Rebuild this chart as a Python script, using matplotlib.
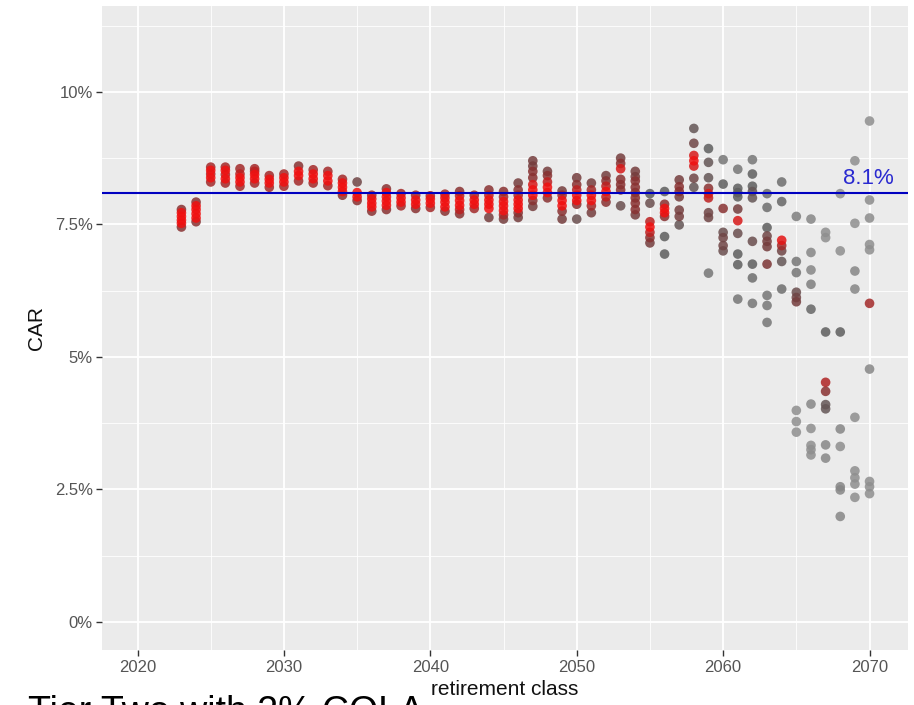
import numpy as np
import matplotlib
matplotlib.use("Agg")
import matplotlib.pyplot as plt
from matplotlib.colors import LinearSegmentedColormap
from matplotlib.ticker import FixedLocator, FuncFormatter

plt.rcParams["font.family"] = ["Liberation Sans", "DejaVu Sans"]

# ── data: one list per retirement class ───────────────────────────────────
classes = [2023, 2024, 2025, 2026, 2027, 2028, 2029, 2030, 2031, 2032,
           2033, 2034, 2035, 2036, 2037, 2038, 2039, 2040, 2041, 2042,
           2043, 2044, 2045, 2046, 2047, 2048, 2049, 2050, 2051, 2052,
           2053, 2054, 2055, 2056, 2057, 2058, 2059, 2060, 2061, 2062,
           2063, 2064, 2065, 2066, 2067, 2068, 2069, 2070]

# CAR in percent
car = [
    [7.45, 7.52, 7.58, 7.65, 7.72, 7.78],
    [7.55, 7.62, 7.70, 7.78, 7.85, 7.92],
    [8.30, 8.38, 8.45, 8.52, 8.58],
    [8.28, 8.36, 8.44, 8.52, 8.58],
    [8.22, 8.30, 8.38, 8.45, 8.55],
    [8.28, 8.36, 8.44, 8.50, 8.55],
    [8.20, 8.28, 8.35, 8.42],
    [8.22, 8.30, 8.38, 8.45],
    [8.32, 8.42, 8.50, 8.60],
    [8.28, 8.36, 8.45, 8.53],
    [8.23, 8.32, 8.42, 8.50],
    [8.05, 8.12, 8.20, 8.28, 8.35],
    [7.95, 8.02, 8.10, 8.30],
    [7.75, 7.83, 7.90, 7.98, 8.05],
    [7.78, 7.86, 7.94, 8.02, 8.10, 8.17],
    [7.85, 7.92, 8.00, 8.08],
    [7.80, 7.88, 7.96, 8.05],
    [7.82, 7.90, 7.98, 8.04],
    [7.75, 7.83, 7.92, 8.00, 8.07],
    [7.70, 7.78, 7.86, 7.95, 8.04, 8.12],
    [7.80, 7.88, 7.96, 8.05],
    [7.63, 7.80, 7.88, 7.96, 8.05, 8.15],
    [7.60, 7.68, 7.76, 7.85, 7.93, 8.02, 8.12],
    [7.63, 7.72, 7.80, 7.88, 7.96, 8.05, 8.15, 8.28],
    [7.84, 7.95, 8.05, 8.15, 8.25, 8.38, 8.50, 8.60, 8.70],
    [8.00, 8.10, 8.20, 8.30, 8.42, 8.50],
    [7.60, 7.75, 7.85, 7.95, 8.05, 8.13],
    [7.60, 7.88, 7.95, 8.05, 8.15, 8.25, 8.38],
    [7.72, 7.85, 7.95, 8.05, 8.15, 8.28],
    [7.92, 8.02, 8.12, 8.22, 8.32, 8.42],
    [7.85, 8.15, 8.25, 8.35, 8.55, 8.65, 8.75],
    [7.68, 7.78, 7.90, 8.00, 8.10, 8.20, 8.32, 8.40, 8.50],
    [7.15, 7.25, 7.35, 7.45, 7.55, 7.90, 8.08],
    [6.94, 7.27, 7.65, 7.72, 7.80, 7.88, 8.12],
    [7.49, 7.65, 7.77, 8.02, 8.12, 8.21, 8.34],
    [8.20, 8.37, 8.60, 8.70, 8.80, 9.03, 9.31],
    [6.58, 7.63, 7.72, 8.00, 8.08, 8.18, 8.38, 8.67, 8.93],
    [7.00, 7.10, 7.25, 7.35, 7.80, 8.26, 8.72],
    [6.09, 6.74, 6.94, 7.33, 7.57, 7.79, 8.02, 8.10, 8.18, 8.54],
    [6.01, 6.49, 6.75, 7.18, 8.00, 8.12, 8.22, 8.45, 8.72],
    [5.65, 5.97, 6.16, 6.75, 7.08, 7.18, 7.28, 7.44, 7.82, 8.08],
    [6.28, 6.80, 7.00, 7.10, 7.20, 7.93, 8.30],
    [3.58, 3.78, 3.99, 6.04, 6.12, 6.22, 6.59, 6.80, 7.65],
    [3.15, 3.25, 3.33, 3.65, 4.11, 5.90, 6.37, 6.64, 6.97, 7.60],
    [3.09, 3.34, 4.02, 4.10, 4.35, 4.52, 5.47, 7.25, 7.35],
    [1.99, 2.49, 2.55, 3.31, 3.64, 5.47, 7.00, 8.08],
    [2.35, 2.60, 2.72, 2.85, 3.86, 6.28, 6.62, 7.52, 8.70],
    [2.42, 2.55, 2.65, 4.77, 6.01, 7.02, 7.12, 7.62, 7.96, 9.45],
]

# colour variable (0 = grey ... 1 = red)
redness = [
    [0.6, 1, 1, 1, 1, 0.6],
    [0.6, 1, 1, 1, 1, 0.6],
    [0.7, 1, 0.8, 1, 0.7],
    [0.7, 1, 0.8, 1, 0.7],
    [0.7, 1, 1, 0.8, 0.7],
    [0.7, 1, 1, 0.8, 0.7],
    [0.7, 1, 1, 0.7],
    [0.7, 1, 1, 0.7],
    [0.7, 1, 1, 0.6],
    [0.7, 1, 1, 0.7],
    [0.7, 1, 1, 0.7],
    [0.6, 1, 1, 1, 0.7],
    [0.6, 1, 1, 0.45],
    [0.6, 1, 1, 1, 0.7],
    [0.6, 1, 1, 1, 1, 0.6],
    [0.7, 1, 1, 0.7],
    [0.6, 1, 1, 0.7],
    [0.7, 1, 1, 0.7],
    [0.6, 1, 1, 1, 0.7],
    [0.6, 0.8, 1, 1, 0.8, 0.6],
    [0.7, 1, 1, 0.7],
    [0.5, 1, 1, 1, 0.8, 0.6],
    [0.5, 0.7, 1, 1, 1, 0.7, 0.6],
    [0.5, 0.6, 1, 1, 1, 0.7, 0.6, 0.5],
    [0.5, 0.6, 1, 1, 0.9, 0.6, 0.6, 0.5, 0.5],
    [0.6, 1, 1, 0.8, 0.6, 0.5],
    [0.5, 0.6, 1, 1, 0.7, 0.5],
    [0.4, 0.6, 1, 1, 0.8, 0.6, 0.5],
    [0.5, 0.7, 1, 1, 0.7, 0.5],
    [0.6, 0.8, 1, 0.8, 0.6, 0.5],
    [0.4, 0.6, 0.6, 0.6, 0.9, 0.6, 0.5],
    [0.5, 0.6, 0.6, 0.6, 0.6, 0.6, 0.6, 0.5, 0.5],
    [0.5, 0.6, 0.8, 1, 0.8, 0.4, 0.3],
    [0.3, 0.3, 0.6, 1, 1, 0.6, 0.3],
    [0.35, 0.5, 0.5, 0.5, 0.6, 0.6, 0.5],
    [0.35, 0.45, 0.9, 1, 0.9, 0.45, 0.35],
    [0.15, 0.45, 0.45, 0.8, 0.9, 0.6, 0.35, 0.35, 0.3],
    [0.4, 0.45, 0.45, 0.4, 0.6, 0.3, 0.15],
    [0.15, 0.3, 0.3, 0.4, 0.9, 0.5, 0.3, 0.3, 0.3, 0.15],
    [0.15, 0.2, 0.3, 0.4, 0.35, 0.35, 0.3, 0.3, 0.15],
    [0.15, 0.15, 0.15, 0.55, 0.5, 0.5, 0.45, 0.3, 0.2, 0.2],
    [0.2, 0.35, 0.45, 0.7, 0.95, 0.25, 0.2],
    [0.0, 0.0, 0.0, 0.5, 0.45, 0.4, 0.15, 0.15, 0.1],
    [0.0, 0.0, 0.0, 0.0, 0.05, 0.25, 0.1, 0.05, 0.05, 0.05],
    [0.05, 0.05, 0.35, 0.35, 0.6, 0.75, 0.3, 0.0, 0.0],
    [0.05, 0.05, 0.05, 0.0, 0.05, 0.3, 0.0, 0.0],
    [0.0, 0.0, 0.0, 0.0, 0.0, 0.05, 0.05, 0.0, 0.0],
    [0.0, 0.0, 0.0, 0.05, 0.7, 0.0, 0.0, 0.02, 0.02, 0.0],
]

target_car = 8.1
x_ticks = [2020, 2030, 2040, 2050, 2060, 2070]
y_ticks = [0, 2.5, 5, 7.5, 10]
y_tick_labels = ["0%", "2.5%", "5%", "7.5%", "10%"]

# ── flatten ───────────────────────────────────────────────────────────────
xs, ys, cs = [], [], []
for yr, vals, reds in zip(classes, car, redness):
    xs += [yr] * len(vals)
    ys += vals
    cs += reds
xs, ys, cs = np.array(xs), np.array(ys), np.array(cs)
order = np.argsort(cs, kind="stable")   # reds drawn on top

cmap = LinearSegmentedColormap.from_list(
    "grey_red", [(0.0, "#8e8e8e"), (0.3, "#5e5e5e"),
                 (0.55, "#7b3535"), (1.0, "#f01010")])

# ── figure ────────────────────────────────────────────────────────────────
fig = plt.figure(figsize=(9.14, 7.05), dpi=100)
ax = fig.add_axes([0.112, 0.078, 0.881, 0.9135])
ax.set_facecolor("#EBEBEB")

ax.scatter(xs[order], ys[order], c=cs[order], cmap=cmap, vmin=0, vmax=1,
           s=48, alpha=0.85, linewidths=0, zorder=3)

ax.axhline(target_car, color="#0000C0", lw=1.5, zorder=4)
ax.text(2069.9, target_car + 0.07, f"{target_car}%", color="#2a2ad0",
        fontsize=16, ha="center", va="bottom", zorder=5)

ax.set_xlim(2017.6, 2072.6)
ax.set_ylim(-0.53, 11.62)

ax.xaxis.set_major_locator(FixedLocator(x_ticks))
ax.xaxis.set_minor_locator(FixedLocator([2025, 2035, 2045, 2055, 2065]))
ax.yaxis.set_major_locator(FixedLocator(y_ticks))
ax.yaxis.set_minor_locator(FixedLocator([1.25, 3.75, 6.25, 8.75, 11.25]))
ax.yaxis.set_major_formatter(FuncFormatter(lambda v, p: y_tick_labels[y_ticks.index(v)]
                                           if v in y_ticks else ""))

ax.grid(which="major", color="white", lw=1.3, zorder=0)
ax.grid(which="minor", color="white", lw=0.6, zorder=0)
ax.set_axisbelow(True)
for s in ax.spines.values():
    s.set_visible(False)

ax.tick_params(which="major", length=4, width=1, color="#333333",
               labelcolor="#555555", labelsize=12, pad=3)
ax.tick_params(which="minor", length=0)

ax.set_xlabel("retirement class", fontsize=15, color="#111111", labelpad=4)
ax.set_ylabel("CAR", fontsize=15, color="#111111", labelpad=6)

# caption cut off at the bottom of the image, as in the source
fig.text(28 / 914, -18 / 705, "Tier Two with 2% COLA", fontsize=27,
         color="black", ha="left", va="baseline")

fig.savefig("out.png", dpi=100)
